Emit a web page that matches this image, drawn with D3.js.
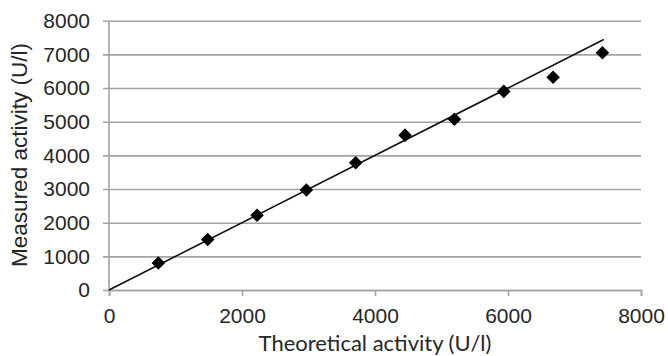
<!DOCTYPE html>
<html>
<head>
<meta charset="utf-8">
<script src="https://cdn.jsdelivr.net/npm/d3@7/dist/d3.min.js"></script>
<style>
  html, body { margin: 0; padding: 0; background: #fff; }
  svg { display: block; }
</style>
</head>
<body>
<svg id="chart" width="668" height="356"></svg>
<script>
// Theoretical vs measured enzyme activity (U/l)
const theoretical = [742, 1484, 2226, 2968, 3710, 4452, 5194, 5936, 6678, 7420];
const measured    = [800, 1500, 2220, 2970, 3780, 4600, 5070, 5900, 6320, 7050];
// Line of identity (measured = theoretical)
const identityX = [0, 7440];
const identityY = [0, 7440];
const xTicks = [0, 2000, 4000, 6000, 8000];
const yTicks = [0, 1000, 2000, 3000, 4000, 5000, 6000, 7000, 8000];
const xTitle = "Theoretical activity (U/l)";
const yTitle = "Measured activity (U/l)";

const svg = d3.select("#chart");
const plotLeft = 109, plotRight = 641, plotTop = 20.7, plotBottom = 290;

const x = d3.scaleLinear().domain([0, 8000]).range([plotLeft, plotRight]);
const y = d3.scaleLinear().domain([0, 8000]).range([plotBottom, plotTop]);

const gridColor = "#a3a3a3";
const textColor = "#262626";
const tickFont = "'Liberation Sans', Arial, sans-serif";

// Horizontal gridlines with short ticks to the left of the axis
const gy = svg.append("g")
  .attr("transform", `translate(${plotLeft - 6},0)`)
  .call(d3.axisLeft(y).tickValues(yTicks).tickFormat(d3.format("d"))
        .tickSize(-(plotRight - plotLeft + 6)).tickPadding(13));
gy.select(".domain").remove();
gy.selectAll(".tick line").attr("stroke", gridColor).attr("stroke-width", 1.6);
gy.selectAll(".tick text").attr("fill", textColor)
  .style("font-family", tickFont).style("font-size", "21px");

// Vertical axis line
svg.append("line")
  .attr("x1", x(0)).attr("x2", x(0))
  .attr("y1", y(8000)).attr("y2", y(0))
  .attr("stroke", gridColor).attr("stroke-width", 1.6);

// Horizontal axis
const gx = svg.append("g")
  .attr("transform", `translate(0,${plotBottom})`)
  .call(d3.axisBottom(x).tickValues(xTicks).tickFormat(d3.format("d"))
        .tickSize(6).tickPadding(12));
gx.select(".domain").attr("stroke", gridColor).attr("stroke-width", 1.6);
gx.selectAll(".tick line").attr("stroke", gridColor).attr("stroke-width", 1.6);
gx.selectAll(".tick text").attr("fill", textColor)
  .style("font-family", tickFont).style("font-size", "21px");

// Identity line
const line = d3.line().x(d => x(d[0])).y(d => y(d[1]));
svg.append("path")
  .datum(d3.zip(identityX, identityY))
  .attr("d", line)
  .attr("fill", "none")
  .attr("stroke", "#111")
  .attr("stroke-width", 1.6);

// Measurement markers (diamonds)
const diamond = d3.symbol().type(d3.symbolSquare).size(92);
svg.append("g").selectAll("path")
  .data(d3.zip(theoretical, measured))
  .join("path")
  .attr("d", diamond)
  .attr("transform", d => `translate(${x(d[0])},${y(d[1])}) rotate(45)`)
  .attr("fill", "#000");

// Axis titles
svg.append("text")
  .attr("x", (plotLeft + plotRight) / 2).attr("y", 351)
  .attr("text-anchor", "middle")
  .attr("fill", textColor)
  .style("font-family", "Lato, 'Open Sans', sans-serif")
  .style("font-size", "22px")
  .text(xTitle);

svg.append("text")
  .attr("transform", `translate(27,155) rotate(-90)`)
  .attr("text-anchor", "middle")
  .attr("fill", textColor)
  .style("font-family", tickFont)
  .style("font-size", "22.5px")
  .text(yTitle);
</script>
</body>
</html>
